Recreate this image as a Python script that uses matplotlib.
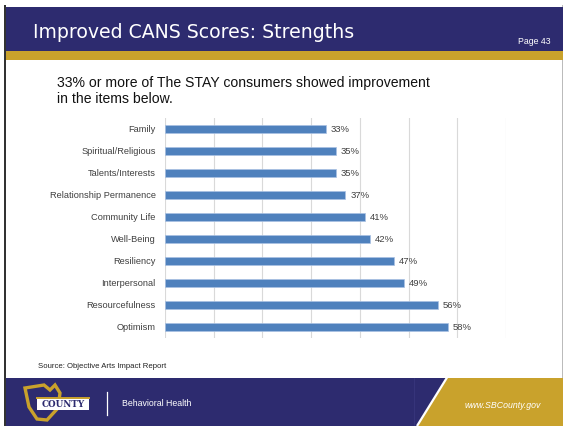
import matplotlib
matplotlib.use("Agg")
import matplotlib.pyplot as plt
from matplotlib.patches import Rectangle, Polygon

# Data
categories = ["Family", "Spiritual/Religious", "Talents/Interests",
              "Relationship Permanence", "Community Life", "Well-Being",
              "Resiliency", "Interpersonal", "Resourcefulness", "Optimism"]
values = [33, 35, 35, 37, 41, 42, 47, 49, 56, 58]
x_ticks = [0, 10, 20, 30, 40, 50, 60, 70]

title = "Improved CANS Scores: Strengths"
page = "Page 43"
subtitle = "33% or more of The STAY consumers showed improvement\nin the items below."
source = "Source: Objective Arts Impact Report"
dept = "Behavioral Health"
site = "www.SBCounty.gov"

NAVY = "#2D2B6F"
GOLD = "#C9A22C"
BAR = "#4F81BD"
TXT = "#404040"

W, H = 564, 426
fig = plt.figure(figsize=(W / 100, H / 100), dpi=100)
fig.patch.set_facecolor("white")

# Slide background drawn in pixel coordinates
bg = fig.add_axes([0, 0, 1, 1], zorder=0)
bg.set_xlim(0, W)
bg.set_ylim(H, 0)
bg.axis("off")

# borders
bg.add_patch(Rectangle((4, 5), 2.2, H - 5, color="#333333", lw=0))
bg.add_patch(Rectangle((562, 5), 1.2, H - 5, color="#BBBBBB", lw=0))
# header
bg.add_patch(Rectangle((6, 6.5), 557, 44.5, color=NAVY, lw=0))
bg.add_patch(Rectangle((6, 51), 557, 8.5, color=GOLD, lw=0))
bg.text(33, 32, title, color="white", fontsize=13.6, family="DejaVu Sans",
        va="center", ha="left")
bg.text(551, 42, page, color="white", fontsize=6.3, family="Liberation Sans",
        va="center", ha="right")

# subtitle
bg.text(57, 75.5, subtitle, color="#111111", fontsize=10.1, family="Liberation Sans",
        va="top", ha="left", linespacing=1.22)

# source
bg.text(38, 367, source, color="#222222", fontsize=5.6, family="Liberation Sans",
        va="center", ha="left")

# footer
bg.add_patch(Rectangle((6, 377.5), 557, H - 377.5, color=NAVY, lw=0))
bg.add_patch(Polygon([(447, 377.5), (563, 377.5), (563, H), (417, H)],
                     closed=True, color=GOLD, lw=0))
bg.plot([417, 447], [H, 377.5], color="white", lw=1.6, solid_capstyle="butt")
bg.plot([413.5, 413.5], [377.5, H], color="#3A3880", lw=0.5)
bg.plot([106.7, 106.7], [391.5, 415], color="white", lw=0.9)
bg.text(122, 404, dept, color="white", fontsize=6.3, family="Liberation Sans",
        va="center", ha="left")
bg.text(503, 405, site, color="white", fontsize=6.3, family="Liberation Sans",
        style="italic", va="center", ha="center")

# county seal: gold shield with a white name plate
shield = [(25, 388), (44, 385), (50, 390), (55, 385), (60, 393), (58, 408),
          (47, 420), (37, 419), (29, 407)]
bg.add_patch(Polygon(shield, closed=True, facecolor="none", edgecolor=GOLD, lw=2.4))
bg.add_patch(Rectangle((37, 398), 52, 12, color="white", lw=0))
bg.plot([37, 89], [398.2, 398.2], color=GOLD, lw=1.4)
bg.text(63, 404.5, "COUNTY", color=NAVY, fontsize=6.3, fontweight="bold",
        family="DejaVu Serif", va="center", ha="center")

# Bar chart
left, right = 165 / W, 506 / W
top, bottom = 118 / H, 338 / H
ax = fig.add_axes([left, 1 - bottom, right - left, bottom - top], zorder=1)
ax.patch.set_alpha(0)
y = list(range(len(categories)))
ax.barh(y, values, height=0.36, color=BAR, edgecolor="#A9C1E3",
        linewidth=0.5, zorder=3)
ax.set_ylim(len(categories) - 0.5, -0.5)
ax.set_xlim(x_ticks[0], x_ticks[-1])
ax.set_xticks(x_ticks)
ax.tick_params(axis="x", bottom=False, labelbottom=False)
ax.tick_params(axis="y", left=False, pad=3.2)
ax.set_yticks(y)
ax.set_yticklabels(categories, fontsize=6.7, family="Liberation Sans", color=TXT)
ax.grid(axis="x", color="#D9D9D9", lw=0.8, zorder=0)
for s in ax.spines.values():
    s.set_visible(False)
for yi, v in zip(y, values):
    ax.text(v + 1.0, yi, f"{v}%", va="center", ha="left", fontsize=6.8,
            family="Liberation Sans", color=TXT)

fig.savefig("out.png", dpi=100)
